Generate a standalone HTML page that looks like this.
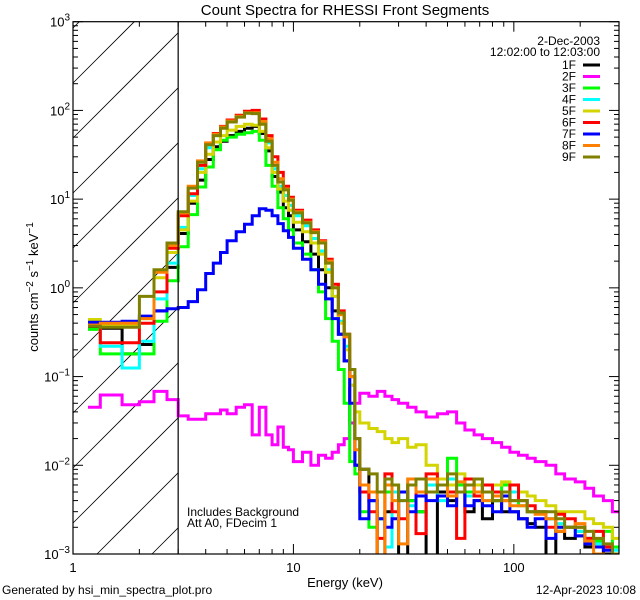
<!DOCTYPE html>
<html><head><meta charset="utf-8"><style>
html,body{margin:0;padding:0;background:#fff;width:640px;height:600px;overflow:hidden;}
svg{display:block;font-family:"Liberation Sans",sans-serif;overflow:hidden;}
</style></head><body>
<svg id="chart" width="640" height="600" xmlns="http://www.w3.org/2000/svg">
<rect x="0" y="0" width="640" height="600" fill="#fff"/>
<text x="345" y="15" font-size="15" text-anchor="middle">Count Spectra for RHESSI Front Segments</text>
<text x="345" y="587" font-size="13" text-anchor="middle">Energy (keV)</text>
<text transform="translate(38,287) rotate(-90)" font-size="13" text-anchor="middle">counts cm<tspan dy="-5" font-size="10">−2</tspan><tspan dy="5"> s</tspan><tspan dy="-5" font-size="10">−1</tspan><tspan dy="5"> keV</tspan><tspan dy="-5" font-size="10">−1</tspan></text>
<text x="2" y="594" font-size="12">Generated by hsi_min_spectra_plot.pro</text>
<text x="636" y="594" font-size="12" text-anchor="end">12-Apr-2023 10:08</text>
<text x="187" y="516" font-size="12">Includes Background</text>
<text x="187" y="527" font-size="12">Att A0, FDecim 1</text>
<g id="hatch"></g>
<g id="series"></g>
<g id="axes"></g>
<g id="legend"></g>
</svg>
<script>
const edges=[1.17,1.33,1.67,2,2.33,2.67,3,3.33,3.67,4,4.33,4.67,5,5.5,6,6.5,7,7.5,8,8.5,9,9.5,10,11,12,13,14,15,16,17,18,19,20,22,24,26,28,30,33,36,40,45,50,55,60,66,72,80,88,96,105,115,125,140,155,170,190,210,230,255,280,300];
const seriesNames=["1F","2F","3F","4F","5F","6F","7F","8F","9F"];
const seriesColors=["#000000","#ff00ff","#00ff00","#00ffff","#d4d400","#ff0000","#0000ff","#ff8000","#808000"];
const s1F=[0.36,0.35,0.18,0.23,0.55,1.7, 4.1,9,16.4,28,39,45,52,58,63,66,55,35,18,12,8,6.5, 4.5,3.3,2.4,1.6,1.0,0.55,0.3,0.15,0.03,0.01, 0.009,0.004,0.0008,0.003,0.005,0.0008,0.004,0.003,0.0008,0.005,0.004,0.005,0.003,0.004,0.0025,0.004,0.003,0.003,0.0025,0.0022,0.002,0.0008,0.0018,0.0015,0.0016,0.0012,0.0012,0.001,0.0009];
const s2F=[0.045,0.062,0.048,0.052,0.068,0.055, 0.036,0.033,0.033,0.038,0.038,0.042,0.038,0.045,0.048,0.022,0.045,0.022,0.017,0.027,0.016,0.015, 0.011,0.014,0.01,0.013,0.012,0.014,0.017,0.02,0.03,0.05, 0.065,0.06,0.068,0.06,0.055,0.05,0.045,0.04,0.035,0.038,0.04,0.03,0.025,0.022,0.02,0.018,0.016,0.014,0.013,0.012,0.011,0.01,0.008,0.007,0.0065,0.0055,0.0045,0.004,0.003];
const s3F=[0.34,0.18,0.18,0.18,0.42,1.2, 2.9,6.7,13.7,23,36,46,50,54,56,58,46,24,14,8,6,4.5, 3.2,2.4,1.6,0.9,0.45,0.25,0.12,0.05,0.011,0.008, 0.003,0.002,0.0025,0.005,0.006,0.005,0.004,0.003,0.007,0.006,0.012,0.006,0.005,0.006,0.005,0.004,0.006,0.004,0.0035,0.003,0.003,0.0025,0.002,0.002,0.0018,0.0015,0.0014,0.0018,0.0012];
const s4F=[0.38,0.22,0.125,0.25,0.75,1.9, 4.8,11,22,38,52,64,76,86,94,95,72,43,22,14,11,8.5, 6.5,5,3.6,2.6,1.6,0.8,0.42,0.22,0.08,0.02, 0.006,0.004,0.0025,0.0012,0.005,0.004,0.0035,0.005,0.006,0.004,0.007,0.005,0.0045,0.005,0.004,0.0045,0.005,0.005,0.004,0.003,0.003,0.0025,0.0022,0.002,0.0018,0.0015,0.0013,0.0012,0.0011];
const s5F=[0.44,0.38,0.38,0.45,1.3,2.5, 4.5,9.5,20,32,44,52,60,66,70,68,58,38,20,13,9.5,7.5, 5.5,4.3,3.2,2.4,1.5,0.8,0.4,0.2,0.08,0.04, 0.03,0.026,0.024,0.02,0.018,0.02,0.016,0.017,0.01,0.007,0.006,0.008,0.007,0.006,0.005,0.006,0.0065,0.006,0.005,0.0045,0.004,0.0035,0.003,0.003,0.003,0.0025,0.0022,0.002,0.0015];
const s6F=[0.38,0.24,0.24,0.4,0.9,2.8, 6.5,11.5,24,42,55,66,78,88,98,100,80,52,30,20,14,10.5, 7.5,5.8,4.5,3.4,2.1,1.1,0.55,0.3,0.1,0.02, 0.005,0.003,0.0015,0.008,0.003,0.0025,0.006,0.0017,0.008,0.006,0.005,0.0015,0.007,0.0045,0.006,0.005,0.004,0.006,0.004,0.0035,0.003,0.002,0.0028,0.0025,0.002,0.0015,0.0018,0.0012,0.001];
const s7F=[0.41,0.41,0.42,0.48,0.55,0.58, 0.6,0.7,0.95,1.45,1.9,2.5,3.4,4.3,5.2,6.5,7.8,7.5,6.5,5.3,4.4,3.7, 2.8,2.1,1.6,1.1,0.75,0.45,0.3,0.15,0.05,0.01, 0.0025,0.004,0.0025,0.002,0.0025,0.005,0.003,0.0045,0.004,0.0045,0.0035,0.005,0.0035,0.004,0.0035,0.003,0.0045,0.003,0.0025,0.002,0.0025,0.0015,0.002,0.002,0.0016,0.0013,0.0012,0.0011,0.0009];
const s8F=[0.38,0.4,0.4,0.45,1.5,3.0, 7,14,27,43,54,65,76,86,94,94,75,48,26,17,13,10, 7.2,5.5,4.3,3.3,2.0,1.0,0.5,0.28,0.1,0.015, 0.006,0.005,0.0008,0.006,0.004,0.0013,0.007,0.005,0.007,0.006,0.0045,0.0065,0.006,0.005,0.004,0.0045,0.004,0.0035,0.0035,0.003,0.0028,0.0025,0.0018,0.002,0.0022,0.0014,0.001,0.0008,0.0009];
const s9F=[0.37,0.36,0.36,0.8,1.6,3.2, 7.2,13.3,26,41,52,63,74,84,93,92,70,45,24,15.6,12.7,9.7, 7,5.4,4.2,3.2,1.9,1.0,0.52,0.3,0.12,0.02, 0.009,0.008,0.005,0.007,0.006,0.004,0.006,0.007,0.005,0.006,0.008,0.005,0.006,0.007,0.005,0.004,0.005,0.004,0.004,0.003,0.003,0.003,0.0025,0.002,0.002,0.0018,0.0015,0.0013,0.001];
const allSeries=[s1F,s2F,s3F,s4F,s5F,s6F,s7F,s8F,s9F];
const xTickLabels=["1","10","100"];
const yTickExps=["−3","−2","−1","0","1","2","3"];

const NS="http://www.w3.org/2000/svg";
const L=73,R=619,T=21.7,B=554;
const xmin=1,xmax=300,ymin=-3,ymax=3;
function X(e){return L+(Math.log10(e)-Math.log10(xmin))/(Math.log10(xmax)-Math.log10(xmin))*(R-L);}
function Y(v){const lv=Math.max(Math.log10(Math.max(v,1e-9)),ymin-0.03);return Math.min(T+(ymax-lv)/(ymax-ymin)*(B-T),B+1);}
function mk(tag,attrs,parent){const el=document.createElementNS(NS,tag);for(const k in attrs)el.setAttribute(k,attrs[k]);parent.appendChild(el);return el;}
const svg=document.getElementById('chart');
const defs=mk('defs',{},svg);
const cp=mk('clipPath',{id:'plotclip'},defs);
mk('rect',{x:L,y:T,width:R-L,height:B-T},cp);

const hg=document.getElementById('hatch');
const X3=X(3);
for(let k=-2;k<12;k++){
  const c=83+55*k;
  const xs=Math.max(L,L+c-B), xe=Math.min(X3,L+c-T);
  if(xe<=xs)continue;
  const ln=mk('line',{x1:xs,y1:c-(xs-L),x2:xe,y2:c-(xe-L),stroke:'#000','stroke-width':0.8},hg);
  
  
}
const bl=mk('line',{x1:X3,y1:T,x2:X3,y2:B,stroke:'#000','stroke-width':1.2},svg);



const sg=document.getElementById('series');
sg.setAttribute('clip-path','url(#plotclip)');
allSeries.forEach((vals,i)=>{
  let d='M'+X(edges[0]).toFixed(1)+' '+Y(vals[0]).toFixed(1);
  for(let j=0;j<vals.length;j++){
    if(j>0)d+=' V'+Y(vals[j]).toFixed(1);
    d+=' H'+X(edges[j+1]).toFixed(1);
  }
  const p=mk('path',{d:d,fill:'none',stroke:seriesColors[i],'stroke-width':3,'stroke-linejoin':'miter'},sg);
  
  
});

const ag=document.getElementById('axes');
const frame=mk('rect',{x:L,y:T,width:R-L,height:B-T,fill:'none',stroke:'#000','stroke-width':1.2},ag);


for(let dec=0;dec<3;dec++){
  for(let m=1;m<10;m++){
    const e=m*Math.pow(10,dec);
    if(e>xmax)break;
    const x=X(e),len=(m===1)?10:5;
    mk('line',{x1:x,y1:B,x2:x,y2:B-len,stroke:'#000','stroke-width':1},ag);
    mk('line',{x1:x,y1:T,x2:x,y2:T+len,stroke:'#000','stroke-width':1},ag);
  }
}
xTickLabels.forEach((t,i)=>{
  const tx=mk('text',{x:X(Math.pow(10,i)),y:B+18,'font-size':13,'text-anchor':'middle'},ag);
  tx.textContent=t;
  
  
});
for(let dec=ymin;dec<=ymax;dec++){
  for(let m=1;m<10;m++){
    if(dec===ymax&&m>1)break;
    const y=Y(m*Math.pow(10,dec)),len=(m===1)?10:5;
    mk('line',{x1:L,y1:y,x2:L+len,y2:y,stroke:'#000','stroke-width':1},ag);
    mk('line',{x1:R,y1:y,x2:R-len,y2:y,stroke:'#000','stroke-width':1},ag);
  }
}
yTickExps.forEach((ex,i)=>{
  const y=Y(Math.pow(10,ymin+i));
  const tx=mk('text',{x:L-3,y:y+5,'font-size':13,'text-anchor':'end'},ag);
  
  
  const a=document.createElementNS(NS,'tspan');a.textContent='10';tx.appendChild(a);
  const b=document.createElementNS(NS,'tspan');b.setAttribute('dy','-6');b.setAttribute('font-size','10');b.textContent=ex;tx.appendChild(b);
});

const lg=document.getElementById('legend');
const t1=mk('text',{x:600,y:45,'font-size':12,'text-anchor':'end'},lg);
t1.textContent='2-Dec-2003';


const t2=mk('text',{x:600,y:56,'font-size':12,'text-anchor':'end'},lg);
t2.textContent='12:02:00 to 12:03:00';


seriesNames.forEach((n,i)=>{
  const y=65+i*11.5;
  const g=mk('g',{},lg);
  
  
  const t=mk('text',{x:576,y:y+4,'font-size':12,'text-anchor':'end'},g);
  t.textContent=n;
  mk('line',{x1:583,y1:y,x2:600,y2:y,stroke:seriesColors[i],'stroke-width':3},g);
});
</script>
</body></html>
